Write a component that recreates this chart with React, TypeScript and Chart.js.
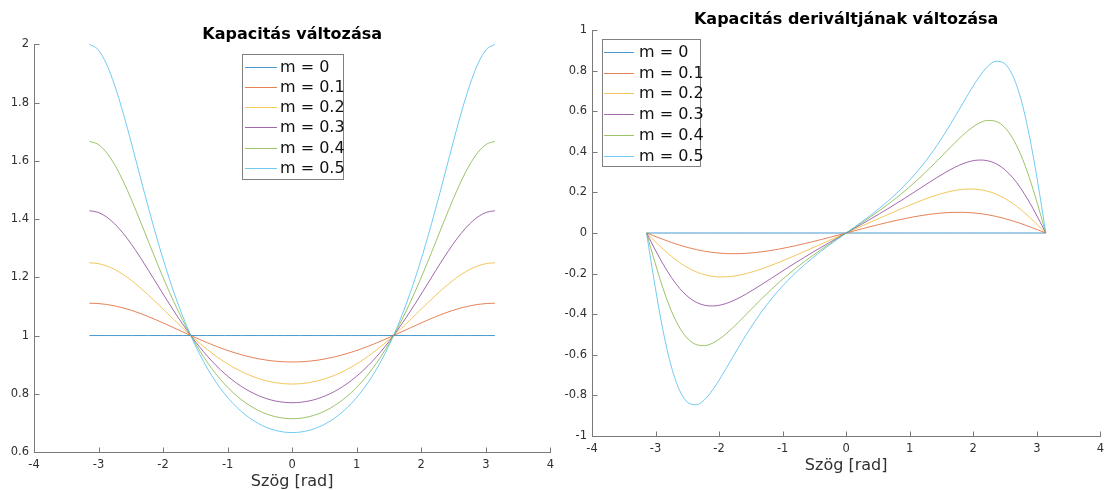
import React, { useEffect, useRef } from 'react';
import { Chart, registerables } from 'chart.js';

Chart.register(...registerables);

const FONT = "'DejaVu Sans', sans-serif";

// angle samples (rad), read along the x axis
const angles = [
  -3.1416, -3.0107, -2.8798, -2.7489, -2.618, -2.4871, -2.3562, -2.2253, -2.0944, -1.9635, -1.8326, -1.7017,
  -1.5708, -1.4399, -1.309, -1.1781, -1.0472, -0.9163, -0.7854, -0.6545, -0.5236, -0.3927, -0.2618, -0.1309, 0,
  0.1309, 0.2618, 0.3927, 0.5236, 0.6545, 0.7854, 0.9163, 1.0472, 1.1781, 1.309, 1.4399, 1.5708, 1.7017,
  1.8326, 1.9635, 2.0944, 2.2253, 2.3562, 2.4871, 2.618, 2.7489, 2.8798, 3.0107, 3.1416,
];

const seriesLabels = ['m = 0', 'm = 0.1', 'm = 0.2', 'm = 0.3', 'm = 0.4', 'm = 0.5'];
const seriesColors = [
  'rgba(0,114,189,0.72)',
  'rgba(217,83,25,0.72)',
  'rgba(237,177,32,0.72)',
  'rgba(126,47,142,0.72)',
  'rgba(119,172,48,0.72)',
  'rgba(77,190,238,0.8)',
];

// Left panel: Kapacitás
const capM00 = [
  1, 1, 1, 1, 1, 1, 1, 1, 1, 1, 1, 1, 1, 1, 1, 1, 1, 1, 1, 1, 1, 1, 1, 1, 1,
  1, 1, 1, 1, 1, 1, 1, 1, 1, 1, 1, 1, 1, 1, 1, 1, 1, 1, 1, 1, 1, 1, 1, 1,
];
const capM01 = [
  1.1111, 1.1101, 1.1069, 1.1018, 1.0948, 1.0862, 1.0761, 1.0648, 1.0526, 1.0398, 1.0266, 1.0132, 1,
  0.9871, 0.9748, 0.9631, 0.9524, 0.9426, 0.934, 0.9265, 0.9203, 0.9154, 0.9119, 0.9098, 0.9091,
  0.9098, 0.9119, 0.9154, 0.9203, 0.9265, 0.934, 0.9426, 0.9524, 0.9631, 0.9748, 0.9871, 1,
  1.0132, 1.0266, 1.0398, 1.0526, 1.0648, 1.0761, 1.0862, 1.0948, 1.1018, 1.1069, 1.1101, 1.1111,
];
const capM02 = [
  1.25, 1.2473, 1.2394, 1.2267, 1.2095, 1.1886, 1.1647, 1.1386, 1.1111, 1.0829, 1.0546, 1.0268, 1,
  0.9746, 0.9508, 0.9289, 0.9091, 0.8915, 0.8761, 0.8631, 0.8524, 0.844, 0.8381, 0.8345, 0.8333,
  0.8345, 0.8381, 0.844, 0.8524, 0.8631, 0.8761, 0.8915, 0.9091, 0.9289, 0.9508, 0.9746, 1,
  1.0268, 1.0546, 1.0829, 1.1111, 1.1386, 1.1647, 1.1886, 1.2095, 1.2267, 1.2394, 1.2473, 1.25,
];
const capM03 = [
  1.4286, 1.4234, 1.408, 1.3834, 1.351, 1.3123, 1.2692, 1.2234, 1.1765, 1.1297, 1.0842, 1.0408, 1,
  0.9623, 0.9279, 0.897, 0.8696, 0.8456, 0.825, 0.8078, 0.7938, 0.783, 0.7753, 0.7708, 0.7692,
  0.7708, 0.7753, 0.783, 0.7938, 0.8078, 0.825, 0.8456, 0.8696, 0.897, 0.9279, 0.9623, 1,
  1.0408, 1.0842, 1.1297, 1.1765, 1.2234, 1.2692, 1.3123, 1.351, 1.3834, 1.408, 1.4234, 1.4286,
];
const capM04 = [
  1.6667, 1.6572, 1.6297, 1.5862, 1.53, 1.4649, 1.3944, 1.3219, 1.25, 1.1807, 1.1155, 1.0551, 1,
  0.9504, 0.9062, 0.8673, 0.8333, 0.8042, 0.7795, 0.7591, 0.7427, 0.7302, 0.7213, 0.716, 0.7143,
  0.716, 0.7213, 0.7302, 0.7427, 0.7591, 0.7795, 0.8042, 0.8333, 0.8673, 0.9062, 0.9504, 1,
  1.0551, 1.1155, 1.1807, 1.25, 1.3219, 1.3944, 1.4649, 1.53, 1.5862, 1.6297, 1.6572, 1.6667,
];
const capM05 = [
  2, 1.983, 1.9341, 1.8585, 1.7637, 1.6575, 1.5469, 1.4376, 1.3333, 1.2366, 1.1486, 1.0698, 1,
  0.9387, 0.8854, 0.8394, 0.8, 0.7667, 0.7388, 0.716, 0.6978, 0.684, 0.6743, 0.6686, 0.6667,
  0.6686, 0.6743, 0.684, 0.6978, 0.716, 0.7388, 0.7667, 0.8, 0.8394, 0.8854, 0.9387, 1,
  1.0698, 1.1486, 1.2366, 1.3333, 1.4376, 1.5469, 1.6575, 1.7637, 1.8585, 1.9341, 1.983, 2,
];

// Right panel: Kapacitás deriváltja
const derM00 = [
  0, 0, 0, 0, 0, 0, 0, 0, 0, 0, 0, 0, 0, 0, 0, 0, 0, 0, 0, 0, 0, 0, 0, 0, 0,
  0, 0, 0, 0, 0, 0, 0, 0, 0, 0, 0, 0, 0, 0, 0, 0, 0, 0, 0, 0, 0, 0, 0, 0,
];
const derM01 = [
  0, -0.0161, -0.0317, -0.0465, -0.0599, -0.0718, -0.0819, -0.09, -0.096, -0.0999, -0.1018, -0.1018, -0.1,
  -0.0966, -0.0918, -0.0857, -0.0786, -0.0705, -0.0617, -0.0523, -0.0424, -0.0321, -0.0215, -0.0108, 0,
  0.0108, 0.0215, 0.0321, 0.0424, 0.0523, 0.0617, 0.0705, 0.0786, 0.0857, 0.0918, 0.0966, 0.1,
  0.1018, 0.1018, 0.0999, 0.096, 0.09, 0.0819, 0.0718, 0.0599, 0.0465, 0.0317, 0.0161, 0,
];
const derM02 = [
  0, -0.0406, -0.0795, -0.1152, -0.1463, -0.172, -0.1918, -0.2057, -0.2138, -0.2167, -0.2149, -0.2091, -0.2,
  -0.1883, -0.1746, -0.1594, -0.1431, -0.1261, -0.1086, -0.0907, -0.0727, -0.0545, -0.0364, -0.0182, 0,
  0.0182, 0.0364, 0.0545, 0.0727, 0.0907, 0.1086, 0.1261, 0.1431, 0.1594, 0.1746, 0.1883, 0.2,
  0.2091, 0.2149, 0.2167, 0.2138, 0.2057, 0.1918, 0.172, 0.1463, 0.1152, 0.0795, 0.0406, 0,
];
const derM03 = [
  0, -0.0793, -0.1539, -0.2197, -0.2738, -0.3145, -0.3417, -0.3562, -0.3596, -0.3537, -0.3406, -0.3222, -0.3,
  -0.2754, -0.2495, -0.223, -0.1965, -0.1702, -0.1444, -0.1192, -0.0945, -0.0704, -0.0467, -0.0233, 0,
  0.0233, 0.0467, 0.0704, 0.0945, 0.1192, 0.1444, 0.1702, 0.1965, 0.223, 0.2495, 0.2754, 0.3,
  0.3222, 0.3406, 0.3537, 0.3596, 0.3562, 0.3417, 0.3145, 0.2738, 0.2197, 0.1539, 0.0793, 0,
];
const derM04 = [
  0, -0.1434, -0.275, -0.3851, -0.4682, -0.5225, -0.5499, -0.5545, -0.5413, -0.5152, -0.4808, -0.4415, -0.4,
  -0.3582, -0.3173, -0.278, -0.2406, -0.2052, -0.1719, -0.1403, -0.1103, -0.0816, -0.0539, -0.0268, 0,
  0.0268, 0.0539, 0.0816, 0.1103, 0.1403, 0.1719, 0.2052, 0.2406, 0.278, 0.3173, 0.3582, 0.4,
  0.4415, 0.4808, 0.5152, 0.5413, 0.5545, 0.5499, 0.5225, 0.4682, 0.3851, 0.275, 0.1434, 0,
];
const derM05 = [
  0, -0.2567, -0.4841, -0.6609, -0.7777, -0.8362, -0.846, -0.8198, -0.7698, -0.7064, -0.6372, -0.5674, -0.5,
  -0.4368, -0.3786, -0.3255, -0.2771, -0.2332, -0.193, -0.156, -0.1217, -0.0895, -0.0588, -0.0292, 0,
  0.0292, 0.0588, 0.0895, 0.1217, 0.156, 0.193, 0.2332, 0.2771, 0.3255, 0.3786, 0.4368, 0.5,
  0.5674, 0.6372, 0.7064, 0.7698, 0.8198, 0.846, 0.8362, 0.7777, 0.6609, 0.4841, 0.2567, 0,
];

const xTicks = [-4, -3, -2, -1, 0, 1, 2, 3, 4];
const xTickLabels = ['-4', '-3', '-2', '-1', '0', '1', '2', '3', '4'];
const leftYTicks = [0.6, 0.8, 1, 1.2, 1.4, 1.6, 1.8, 2];
const leftYTickLabels = ['0.6', '0.8', '1', '1.2', '1.4', '1.6', '1.8', '2'];
const rightYTicks = [-1, -0.8, -0.6, -0.4, -0.2, 0, 0.2, 0.4, 0.6, 0.8, 1];
const rightYTickLabels = ['-1', '-0.8', '-0.6', '-0.4', '-0.2', '0', '0.2', '0.4', '0.6', '0.8', '1'];

const leftTitle = 'Kapacitás változása';
const rightTitle = 'Kapacitás deriváltjának változása';
const xAxisTitle = 'Szög [rad]';

const AXIS_COLOR = '#7a7a7a';
const TEXT_COLOR = '#303030';

const inwardTicks = {
  id: 'inwardTicks',
  afterDatasetsDraw(chart: any) {
    const { ctx, chartArea } = chart;
    const xs = chart.scales.x;
    const ys = chart.scales.y;
    ctx.save();
    ctx.strokeStyle = AXIS_COLOR;
    ctx.lineWidth = 1;
    ctx.beginPath();
    const b = Math.round(chartArea.bottom) + 0.5;
    const l = Math.round(chartArea.left) + 0.5;
    xs.ticks.forEach((t: any) => {
      const px = Math.round(xs.getPixelForValue(t.value)) + 0.5;
      ctx.moveTo(px, b);
      ctx.lineTo(px, b - 5);
    });
    ys.ticks.forEach((t: any) => {
      const py = Math.round(ys.getPixelForValue(t.value)) + 0.5;
      ctx.moveTo(l, py);
      ctx.lineTo(l + 5, py);
    });
    ctx.stroke();
    ctx.restore();
  },
};

const boxLegend = {
  id: 'boxLegend',
  afterDraw(chart: any, _args: any, opts: any) {
    const { ctx } = chart;
    ctx.save();
    ctx.fillStyle = '#ffffff';
    ctx.fillRect(opts.x, opts.y, opts.w, opts.h);
    ctx.strokeStyle = '#808080';
    ctx.lineWidth = 1;
    ctx.strokeRect(Math.round(opts.x) + 0.5, Math.round(opts.y) + 0.5, Math.round(opts.w), Math.round(opts.h));
    ctx.font = `16px ${FONT}`;
    ctx.textBaseline = 'middle';
    ctx.textAlign = 'left';
    chart.data.datasets.forEach((ds: any, i: number) => {
      const y = opts.rowY0 + i * opts.rowStep;
      ctx.strokeStyle = ds.borderColor;
      ctx.beginPath();
      ctx.moveTo(opts.lineX1, Math.round(y) + 0.5);
      ctx.lineTo(opts.lineX2, Math.round(y) + 0.5);
      ctx.stroke();
      ctx.fillStyle = '#111111';
      ctx.fillText(ds.label, opts.textX, y + 1);
    });
    ctx.restore();
  },
};

function makeConfig(p: any) {
  return {
    type: 'line',
    data: {
      datasets: p.series.map((arr: number[], i: number) => ({
        label: seriesLabels[i],
        data: angles.map((x, j) => ({ x, y: arr[j] })),
        borderColor: seriesColors[i],
        backgroundColor: seriesColors[i],
        borderWidth: 1,
        pointRadius: 0,
        fill: false,
        cubicInterpolationMode: 'monotone',
        clip: false,
        order: seriesLabels.length - i,
      })),
    },
    options: {
      responsive: false,
      animation: false,
      devicePixelRatio: 1,
      layout: { padding: p.padding },
      plugins: {
        legend: { display: false },
        tooltip: { enabled: false },
        title: {
          display: true,
          text: p.title,
          fullSize: false,
          color: '#000000',
          font: { family: FONT, size: 16, weight: 'bold', lineHeight: 1.2 },
          padding: p.titlePadding,
        },
        boxLegend: p.legend,
      },
      scales: {
        x: {
          type: 'linear',
          min: -4,
          max: 4,
          afterBuildTicks: (s: any) => {
            s.ticks = xTicks.map((v) => ({ value: v }));
          },
          afterFit: (s: any) => {
            s.height = p.xHeight;
          },
          grid: { display: false, drawTicks: false },
          border: { display: true, color: AXIS_COLOR, width: 1 },
          ticks: {
            autoSkip: false,
            maxRotation: 0,
            padding: 6,
            color: TEXT_COLOR,
            font: { family: FONT, size: 11.5 },
            callback: (_v: any, i: number) => xTickLabels[i],
          },
          title: {
            display: true,
            text: xAxisTitle,
            color: TEXT_COLOR,
            font: { family: FONT, size: 16, lineHeight: 1 },
            padding: { top: 0, bottom: 0 },
          },
        },
        y: {
          type: 'linear',
          min: p.yMin,
          max: p.yMax,
          afterBuildTicks: (s: any) => {
            s.ticks = p.yTicks.map((v: number) => ({ value: v }));
          },
          afterFit: (s: any) => {
            s.width = p.yWidth;
          },
          grid: { display: false, drawTicks: false },
          border: { display: true, color: AXIS_COLOR, width: 1 },
          ticks: {
            autoSkip: false,
            padding: 5,
            color: TEXT_COLOR,
            font: { family: FONT, size: 11.5 },
            callback: (_v: any, i: number) => p.yLabels[i],
          },
        },
      },
    },
    plugins: [inwardTicks, boxLegend],
  };
}

function Panel(props: { params: any; left: number; width: number; height: number }) {
  const ref = useRef<HTMLCanvasElement | null>(null);
  useEffect(() => {
    if (!ref.current) return;
    const chart = new Chart(ref.current, makeConfig(props.params) as any);
    return () => chart.destroy();
  }, []);
  return (
    <canvas
      ref={ref}
      width={props.width}
      height={props.height}
      style={{ position: 'absolute', left: props.left, top: 0, width: props.width, height: props.height }}
    />
  );
}

const leftParams = {
  series: [capM00, capM01, capM02, capM03, capM04, capM05],
  title: leftTitle,
  titlePadding: { top: 25.2, bottom: 0 },
  padding: { left: 0, right: 9, top: 0, bottom: 0 },
  xHeight: 38,
  yWidth: 34,
  yMin: 0.6,
  yMax: 2,
  yTicks: leftYTicks,
  yLabels: leftYTickLabels,
  legend: { x: 242, y: 54, w: 101, h: 125, lineX1: 245, lineX2: 277, textX: 280, rowY0: 66.7, rowStep: 20.2 },
};

const rightParams = {
  series: [derM00, derM01, derM02, derM03, derM04, derM05],
  title: rightTitle,
  titlePadding: { top: 10.4, bottom: 0.4 },
  padding: { left: 0, right: 5, top: 0, bottom: 0 },
  xHeight: 38,
  yWidth: 37,
  yMin: -1,
  yMax: 1,
  yTicks: rightYTicks,
  yLabels: rightYTickLabels,
  legend: { x: 46.7, y: 39.3, w: 97.6, h: 126.7, lineX1: 49, lineX2: 79, textX: 84, rowY0: 51.7, rowStep: 20.8 },
};

export default function App() {
  return (
    <div style={{ position: 'fixed', left: 0, top: 0, width: 1110, height: 490, background: '#ffffff' }}>
      <Panel params={leftParams} left={0} width={560} height={490} />
      <Panel params={rightParams} left={555} width={555} height={474} />
    </div>
  );
}
